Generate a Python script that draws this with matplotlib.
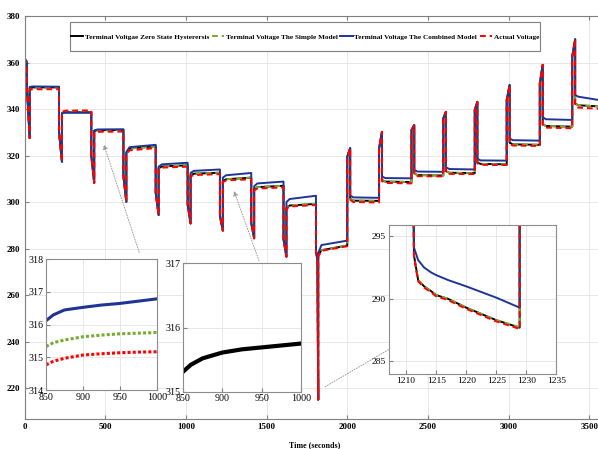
import numpy as np
import matplotlib.pyplot as plt
from matplotlib.patches import Rectangle

plt.rcParams['font.family'] = ['Liberation Serif', 'DejaVu Serif']

# start of the record (spike at t=0)
start_t = [0, 1.5, 3.5]
start_v = [373, 331, 361]

# pulses: switch on / off times and voltages (discharge then charge)
ev_on = [14, 214, 414, 613, 813, 1011, 1211, 1405, 1605, 1806,
         2000, 2197, 2398, 2595, 2790, 2988, 3193, 3394]
ev_off = [32, 232, 432, 631, 831, 1029, 1229, 1423, 1623, 1820,
          2018, 2215, 2415, 2611, 2806, 3006, 3211, 3412]
ev_v_on = [350, 330, 320, 311, 304, 299, 294, 291, 284, 279,
           319.5, 323, 331, 336, 339.6, 343.9, 351, 362.5]
ev_v_off = [327.5, 317.3, 308.2, 300.1, 294.4, 290.8, 287.7, 284.4, 276.5, 215,
            323.2, 330.2, 333.1, 338.8, 343.1, 350.3, 359, 370]
dip_t = [1815]
dip_v = [275]
t_end = 3566

# rest periods: (just after step, ~20 s later, end of rest)
black_rest = [(361, 360.5, 360), (349, 349.3, 349.3), (338.3, 338.6, 338.6),
              (330.5, 330.9, 331), (321, 323, 324), (314.5, 315.3, 315.8),
              (311.5, 312.2, 312.6), (309, 309.8, 310.5), (305.5, 306.4, 307),
              (297.5, 298.5, 299.2), (277, 279.3, 281.3), (301.5, 300.6, 300.5),
              (309.5, 308.8, 308.6), (312.3, 311.6, 311.4), (313.3, 312.6, 312.4),
              (317, 316.4, 316.2), (325.5, 324.8, 324.6), (333.5, 332.7, 332.4),
              (342.3, 341.6, 341.1)]
green_rest = [(361, 360.5, 360), (349, 349.3, 349.3), (338.3, 338.6, 338.6),
              (330.5, 330.9, 331), (321, 323, 324), (314.5, 315.3, 315.8),
              (311.5, 312.2, 312.6), (309, 309.8, 310.5), (305.5, 306.4, 307),
              (297.6, 298.6, 299.3), (277, 279.3, 281.3), (301.5, 300.6, 300.5),
              (309.5, 308.8, 308.6), (312.3, 311.6, 311.4), (313.3, 312.6, 312.4),
              (317, 316.4, 316.2), (325.5, 324.8, 324.6), (333.5, 332.7, 332.4),
              (342.3, 341.6, 341.1)]
blue_rest = [(361.5, 361, 360.5), (349.5, 349.7, 349.6), (338.2, 338.4, 338.4),
             (330.8, 331.2, 331.3), (321.5, 323.6, 324.6), (315.2, 316.2, 316.9),
             (312.5, 313.4, 314), (310.5, 311.5, 312.5), (306.8, 308, 308.8),
             (300, 301.3, 302.7), (278, 281.5, 283.4), (302.8, 302, 301.8),
             (311, 310.3, 310.2), (313.8, 313.1, 313), (315, 314.2, 314),
             (318.6, 317.9, 317.8), (327.3, 326.6, 326.4), (336.5, 335.6, 335.3),
             (346, 345.3, 343.8)]
red_rest = [(360.5, 360, 359.5), (348.3, 348.5, 348.5), (338.8, 339.3, 339.4),
            (329.8, 330.2, 330.3), (320.5, 322.2, 323.2), (314, 314.8, 315.2),
            (311, 311.6, 312), (308.5, 309.3, 309.8), (305, 305.8, 306.3),
            (297, 298.1, 298.7), (276.5, 279, 281), (301, 300, 299.8),
            (309, 308.2, 308), (311.8, 311.1, 311), (312.8, 312.1, 312),
            (316.6, 316, 315.9), (325, 324.3, 324.1), (332.8, 332, 331.7),
            (341.3, 340.6, 340.1)]

# inset 1 / 2 (rest period 850-1000 s)
in1_t = [850, 860, 875, 900, 925, 950, 975, 1000]
in1_blue = [316.12, 316.3, 316.45, 316.53, 316.6, 316.65, 316.72, 316.79]
in1_green = [315.33, 315.45, 315.53, 315.63, 315.68, 315.72, 315.74, 315.76]
in1_red = [314.77, 314.88, 314.97, 315.07, 315.11, 315.14, 315.16, 315.17]
in2_black = [315.31, 315.42, 315.52, 315.61, 315.66, 315.69, 315.72, 315.75]

# inset 3 (discharge pulse near 1211-1229 s)
in3_t = [1211.2, 1211.3, 1212, 1213, 1214.2, 1215, 1217, 1220, 1225, 1228.9, 1228.9]
in3_blue = [300, 294.1, 293.1, 292.5, 292.1, 291.9, 291.5, 291.0, 290.1, 289.3, 300]
in3_black = [300, 293.5, 291.5, 291.0, 290.6, 290.3, 290.0, 289.3, 288.3, 287.7, 300]
in3_green = [300, 293.5, 291.5, 291.0, 290.6, 290.3, 290.0, 289.3, 288.3, 287.75, 300]
in3_red = [300, 293.4, 291.4, 290.9, 290.5, 290.2, 289.9, 289.2, 288.2, 287.6, 300]


def build(rest):
    t = list(start_t)
    v = list(start_v)
    prev = start_t[-1]
    for k in range(len(ev_on)):
        a, b, c = rest[k]
        tb = min(prev + 20, (prev + ev_on[k]) / 2)
        t += [prev, tb, ev_on[k], ev_on[k]]
        v += [a, b, c, ev_v_on[k]]
        if k == 9:
            t += dip_t
            v += dip_v
        t.append(ev_off[k])
        v.append(ev_v_off[k])
        prev = ev_off[k]
    a, b, c = rest[-1]
    t += [prev, prev + 20, t_end]
    v += [a, b, c]
    return t, v


c_blue = '#1f3596'
c_green = '#77ac30'
c_red = '#ff0000'

fig = plt.figure(figsize=(5.98, 4.49), dpi=100)
ax = fig.add_axes([24.5 / 598, 30 / 449, 575.5 / 598, 403 / 449])

tb, vb = build(black_rest)
tg, vg = build(green_rest)
tu, vu = build(blue_rest)
tr, vr = build(red_rest)
ax.plot(tb, vb, color='k', lw=1.4, label='Terminal Voltgae Zero State Hysterersis')
ax.plot(tg, vg, color=c_green, lw=1.4, dashes=(3, 2), label='Terminal Voltage The Simple Model')
ax.plot(tu, vu, color=c_blue, lw=1.4, label='Terminal Voltage The Combined Model')
ax.plot(tr, vr, color=c_red, lw=1.4, dashes=(3, 2), label='Actual Voltage')

ax.set_xlim(0, t_end)
ax.set_ylim(206.7, 380)
ax.set_xticks(np.arange(0, 3501, 500))
ax.set_yticks(np.arange(220, 381, 20))
ax.grid(True, color='#e3e3e3', lw=0.6)
ax.tick_params(direction='in', length=3, top=True, labelsize=6.5, pad=3, color='#7f7f7f')
for lab in ax.get_xticklabels() + ax.get_yticklabels():
    lab.set_fontweight('bold')
for s in ax.spines.values():
    s.set_color('#7f7f7f')
    s.set_linewidth(0.8)
ax.set_xlabel('Time (seconds)', fontsize=5.8, fontweight='bold')
ax.xaxis.set_label_coords(0.505, -0.054)

# legend box
ax.add_patch(Rectangle((70 / 598, 398 / 449), 470 / 598, 29 / 449,
                       transform=fig.transFigure, facecolor='white',
                       edgecolor='#7f7f7f', lw=0.8, zorder=4, clip_on=False))
leg = ax.legend(ncol=4, loc='center', bbox_to_anchor=(305 / 598, 412.5 / 449),
                bbox_transform=fig.transFigure, frameon=False,
                prop={'size': 5.2, 'weight': 'bold'}, handlelength=1.7,
                handletextpad=0.25, columnspacing=0.35)
leg.set_zorder(6)

# arrows to insets
arr = dict(arrowstyle='-|>', linestyle=':', color='#9a9a9a', lw=0.7, mutation_scale=7)
ax.annotate('', xy=(486, 325.9), xytext=(716, 277.2), arrowprops=arr)
ax.annotate('', xy=(1292, 305.9), xytext=(1459, 273.6), arrowprops=arr)
ax.annotate('', xy=(2314, 238.9), xytext=(1849, 220), arrowprops=arr)


def style_inset(a, fs):
    a.grid(True, color='#e3e3e3', lw=0.6)
    a.tick_params(direction='in', length=3, labelsize=fs, pad=2, color='#7f7f7f')
    for s in a.spines.values():
        s.set_color('#8c8c8c')
        s.set_linewidth(0.8)


ax1 = fig.add_axes([46 / 598, 59 / 449, 111 / 598, 130.7 / 449])
ax1.plot(in1_t, in1_blue, color=c_blue, lw=2.2)
ax1.plot(in1_t, in1_green, color=c_green, lw=2.2, linestyle=(0, (1, 0.7)))
ax1.plot(in1_t, in1_red, color=c_red, lw=2.2, linestyle=(0, (1, 0.7)))
ax1.set_xlim(850, 1000)
ax1.set_ylim(314, 318)
ax1.set_xticks([850, 900, 950, 1000])
ax1.set_yticks([314, 315, 316, 317, 318])
style_inset(ax1, 7.2)

ax2 = fig.add_axes([183 / 598, 57.3 / 449, 118 / 598, 128.4 / 449])
ax2.plot(in1_t, in2_black, color='k', lw=3)
ax2.set_xlim(850, 1000)
ax2.set_ylim(315, 317)
ax2.set_xticks([850, 900, 950, 1000])
ax2.set_yticks([315, 316, 317])
style_inset(ax2, 7.2)

ax3 = fig.add_axes([388.7 / 598, 75 / 449, 167.6 / 598, 149 / 449])
ax3.plot(in3_t, in3_black, color='k', lw=1.4)
ax3.plot(in3_t, in3_green, color=c_green, lw=1.4, dashes=(3, 2))
ax3.plot(in3_t, in3_blue, color=c_blue, lw=1.4)
ax3.plot(in3_t, in3_red, color=c_red, lw=1.4, dashes=(3, 2))
ax3.set_xlim(1207.1, 1235)
ax3.set_ylim(284.0, 295.9)
ax3.set_xticks([1210, 1215, 1220, 1225, 1230, 1235])
ax3.set_yticks([285, 290, 295])
style_inset(ax3, 6.8)

fig.savefig('out.png', dpi=100)
